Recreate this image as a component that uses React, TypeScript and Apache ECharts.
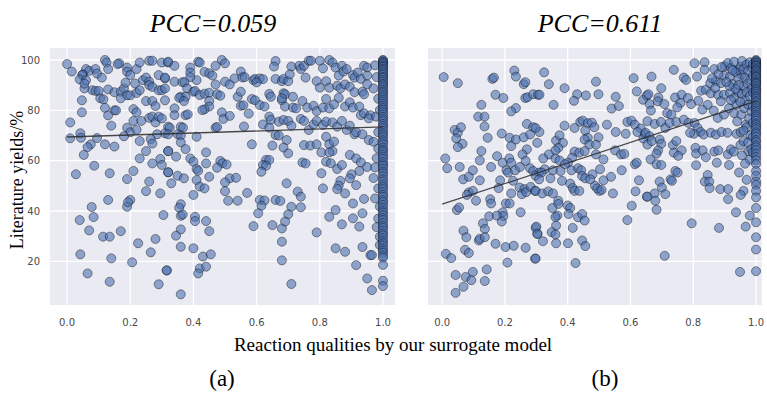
import { useEffect, useRef } from "react";
import * as echarts from "echarts";

// ---------- data ----------
const xTicks = [0, 0.2, 0.4, 0.6, 0.8, 1.0];
const yTicks = [20, 40, 60, 80, 100];
const panelTitles = ["PCC=0.059", "PCC=0.611"];
const panelTags = ["(a)", "(b)"];
const yAxisTitle = "Literature yields/%";
const xAxisTitle = "Reaction qualities by our surrogate model";

// regression lines (endpoints)
const fitA = [[0, 69.4], [1, 73.4]];
const fitB = [[0, 42.7], [1, 83.7]];

// panel (a) scattered points
const pointsA = [
  [0.00,98.4],[0.015,95.4],[0.12,100],[0.125,99],[0.13,96.4],[0.165,98.7],[0.16,98.4],[0.19,97],[0.19,95.4],[0.20,94],[0.22,96.4],[0.23,99],[0.26,99.7],[0.27,99.7],[0.30,99],[0.32,99],[0.06,96.4],[0.07,95.7],[0.05,94.3],[0.048,94],[0.04,92.3],[0.06,92],[0.09,96.4],[0.095,94.6],[0.11,93],[0.055,88.7],[0.055,90.6],[0.08,88],[0.09,87.7],[0.10,87.7],[0.105,84.8],[0.115,84.4],[0.13,88.3],[0.15,87.2],[0.17,87.4],[0.17,84.8],[0.18,88.7],[0.185,91],[0.19,86],[0.20,86],[0.215,90.7],[0.22,86.9],[0.23,88],[0.24,92],[0.25,93],[0.26,91.4],[0.26,90],[0.27,89.3],[0.25,83.7],[0.27,83.7],[0.28,81.7],[0.29,88],[0.29,94],[0.31,92.7],[0.30,88],[0.31,84],[0.047,84],[0.047,79.2],[0.12,81],[0.13,78],[0.15,80],[0.155,80],[0.14,73.9],[0.21,80.5],[0.22,79.2],[0.21,75.8],[0.19,73.1],[0.20,71.3],[0.22,72.3],[0.235,75.8],[0.26,77],[0.27,77.5],[0.28,75.2],[0.29,77.5],[0.30,76.8],[0.32,73.5],[0.31,70.9],[0.285,70.5],[0.265,68.6],[0.27,66.8],[0.23,67.8],[0.18,69.7],[0.01,75.2],[0.01,68.9],[0.042,70.9],[0.044,69.1],[0.095,69],[0.075,66.5],[0.065,65.4],[0.12,66.5],[0.15,65.6],[0.053,62.3],[0.25,63.8],[0.23,60.9],[0.27,58.9],[0.295,60.7],[0.30,58.3],[0.32,63.8],[0.32,55.4],[0.086,58],[0.028,54.6],[0.135,55],[0.21,55.9],[0.19,52.7],[0.26,51.7],[0.25,47.9],[0.295,47],[0.20,44.4],[0.19,41.7],[0.193,43.5],[0.13,44.4],[0.078,41.6],[0.084,37.6],[0.04,36.4],[0.07,32.3],[0.114,29.8],[0.135,29.8],[0.17,32],[0.305,38.4],[0.28,28.9],[0.225,27.2],[0.265,23.6],[0.042,22.8],[0.14,21.2],[0.206,19.6],[0.316,16.4],[0.065,15.2],[0.135,11.9],[0.29,10.9],
  [0.32,99.3],[0.34,97.7],[0.415,99.3],[0.42,99],[0.49,100],[0.50,98.7],[0.39,97],[0.39,95],[0.435,95.3],[0.45,94.7],[0.46,93.8],[0.47,97.7],[0.41,92],[0.39,93.2],[0.34,91.4],[0.365,91.2],[0.372,91.2],[0.31,93],[0.31,88.7],[0.38,88.7],[0.40,87.4],[0.405,87.7],[0.42,86.1],[0.435,86.6],[0.45,87],[0.47,90.3],[0.475,86.4],[0.485,85.8],[0.50,91.4],[0.515,90.3],[0.53,92.7],[0.54,85.4],[0.55,87.4],[0.55,95.4],[0.555,93.1],[0.562,93.2],[0.59,92],[0.595,92.5],[0.61,92.7],[0.62,92.4],[0.60,91.1],[0.66,99.6],[0.655,97.4],[0.66,92.5],[0.68,91.6],[0.36,85.4],[0.375,85.4],[0.355,85],[0.37,83.7],[0.45,83.7],[0.45,81.5],[0.435,80.4],[0.428,80.1],[0.55,81.8],[0.558,82],[0.585,84.5],[0.595,84],[0.61,82.1],[0.625,81.5],[0.64,86.5],[0.645,85.4],[0.68,84],[0.685,86.8],[0.34,80.8],[0.34,78.1],[0.375,78.1],[0.382,78.4],[0.49,79.2],[0.495,76.6],[0.515,77.8],[0.575,78.7],[0.64,77.5],[0.645,76.2],[0.67,75.5],[0.62,74.4],[0.56,73.6],[0.47,73.1],[0.475,73.4],[0.325,73.1],[0.32,70.5],[0.36,73.5],[0.367,73.1],[0.35,70.5],[0.36,70],[0.41,69.5],[0.64,73.1],[0.66,70.2],[0.67,70],[0.36,67.3],[0.375,64.6],[0.32,63.8],[0.585,66.5],[0.65,66],[0.44,63.3],[0.345,61.6],[0.39,60.9],[0.40,59.6],[0.44,58.9],[0.485,59.9],[0.492,59],[0.505,58.5],[0.475,57.2],[0.41,56.7],[0.415,56],[0.45,53.6],[0.63,60.3],[0.64,60.3],[0.62,58.3],[0.63,58],[0.615,55.6],[0.32,55.4],[0.35,54],[0.37,53],[0.33,51],[0.41,52.3],[0.42,49.7],[0.435,49],[0.515,53],[0.535,53.2],[0.50,51.4],[0.50,47.9],[0.57,47.2],[0.40,46.4],[0.51,44.1],[0.54,44.1],[0.61,44.4],[0.625,44.2],[0.615,42.1],[0.66,44.4],[0.675,44],[0.605,39.1],[0.36,42.7],[0.355,41.3],[0.36,38.1],[0.366,38.6],[0.405,37.7],[0.405,36],[0.44,36],[0.45,32],[0.59,34],[0.65,34.4],[0.68,33.1],[0.36,32.7],[0.345,30.2],[0.36,25.8],[0.40,25.2],[0.43,21.9],[0.455,22.8],[0.42,17.2],[0.415,15.2],[0.44,17.9],[0.68,27.8],[0.68,20.4],[0.315,16.4],[0.36,6.9],
  [0.71,97.4],[0.735,97.7],[0.74,96.4],[0.75,97.7],[0.755,93],[0.765,99.7],[0.772,99.7],[0.80,99.7],[0.81,96.7],[0.83,100],[0.84,99],[0.85,97],[0.86,93.8],[0.87,97.7],[0.875,95.4],[0.885,96.4],[0.905,94],[0.91,93],[0.92,95],[0.93,92.5],[0.94,97.7],[0.95,97],[0.95,93.8],[0.95,90.3],[0.685,92.5],[0.70,91.6],[0.705,94.3],[0.79,91.6],[0.80,89],[0.82,91.6],[0.83,89],[0.855,89.8],[0.865,88.7],[0.88,90.3],[0.895,89.4],[0.91,87.2],[0.935,87.4],[0.94,86.4],[0.69,86.4],[0.68,84.8],[0.715,85.4],[0.69,81.5],[0.715,81.1],[0.725,80.8],[0.745,83.7],[0.76,81.1],[0.78,81.8],[0.79,79.7],[0.81,81.1],[0.82,84.5],[0.83,80.8],[0.845,82.4],[0.86,85],[0.88,81.5],[0.895,83.2],[0.905,81.1],[0.925,81.5],[0.93,78.1],[0.94,78.8],[0.96,78.1],[0.955,76.8],[0.685,76.2],[0.70,75.8],[0.71,73.9],[0.74,76.6],[0.75,75.8],[0.765,72.2],[0.78,74.4],[0.79,75.8],[0.81,74.2],[0.82,75.5],[0.84,75.2],[0.855,73.5],[0.87,75.8],[0.885,72.2],[0.895,73.9],[0.91,70.5],[0.915,71.3],[0.935,70.5],[0.955,68.2],[0.695,68.2],[0.685,65.2],[0.70,62.9],[0.75,66.2],[0.77,66],[0.79,66.5],[0.82,69.5],[0.83,66.5],[0.845,67.6],[0.84,63.8],[0.805,63.3],[0.83,63.3],[0.82,59.6],[0.835,59],[0.855,56.7],[0.87,58.3],[0.895,62.3],[0.915,60.9],[0.93,59.3],[0.95,57.5],[0.925,55.9],[0.90,54.6],[0.895,53],[0.745,59.3],[0.755,58.9],[0.805,55],[0.865,52],[0.86,50.1],[0.855,48.7],[0.88,47],[0.915,50.3],[0.81,49],[0.73,47.7],[0.74,45.7],[0.695,51],[0.71,41.7],[0.74,41.5],[0.70,38.7],[0.69,35.8],[0.905,43],[0.94,44.8],[0.935,39.1],[0.925,33.8],[0.905,37.1],[0.85,40.4],[0.83,37.7],[0.87,34.7],[0.79,31.5],[0.85,25.2],[0.88,23.8],[0.935,25.7],[0.915,18.5],[0.95,13.2],[0.96,22.5],[0.965,8.6],[0.71,11],
  [0.975,97.9],[0.97,88.7],[0.978,77.5],[0.985,71.3],[0.97,67.5],[0.98,61],[0.985,49],[0.975,45],[0.985,37],[0.99,29.8],[0.99,26.5],[0.965,22.5],[0.98,93.2],[0.985,84.6],[0.975,57.3],[0.99,41.8],[0.98,33.6],[0.985,64.8],[0.99,80.1],[0.97,53.1]
];

// panel (a) dense column of yields at quality 1.0
const columnA = [100,99.8,99.3,98.9,98.4,97.7,97.3,96.6,96.1,95.4,94.7,94.1,93.3,92.8,92,91.3,90.5,89.9,89.1,88.2,87.4,86.8,85.9,85.1,84.2,83.5,82.6,81.7,80.9,80.2,79.3,78.4,77.4,76.5,75.7,74.6,73.8,72.9,71.8,70.9,70.1,69.2,68.1,67.3,66.4,65.2,64.3,63.6,62.5,61.6,60.7,59.5,58.6,57.9,56.8,55.7,54.9,53.8,52.6,51.7,50.5,49.6,48.7,47.5,46.4,45.6,44.3,43.5,42.4,41.3,40.2,39.4,38.3,37.2,36.4,35.2,34.1,33.3,32.2,31.1,30.3,29.2,28.1,27.2,26.3,25.1,24.2,23.4,22.3,21.4,18.6,12.3,10.2];

// panel (b) scattered points
const pointsB = [
  [0.005,93.2],[0.05,90.8],[0.16,92.5],[0.165,93],[0.23,95.8],[0.235,93.4],[0.26,90.4],[0.265,91.2],[0.17,86.2],[0.195,84.9],[0.265,84.9],[0.272,85.2],[0.29,86.4],[0.305,86.2],[0.125,82.2],[0.235,80.9],[0.22,79.6],[0.115,77.5],[0.135,77.5],[0.135,73.6],[0.04,72.2],[0.05,71.1],[0.06,73.3],[0.045,68.8],[0.065,66.7],[0.05,65.4],[0.145,69.1],[0.19,70.8],[0.215,69.1],[0.235,68.4],[0.26,69.3],[0.27,74.6],[0.29,73.3],[0.28,70.4],[0.22,65.8],[0.27,64.5],[0.125,63.8],[0.12,60.1],[0.175,61.8],[0.01,60.9],[0.016,57],[0.056,57.5],[0.067,52.6],[0.085,53.6],[0.098,56.2],[0.12,52.2],[0.156,57.5],[0.193,59.2],[0.205,56.2],[0.214,60.9],[0.22,59.2],[0.21,55.3],[0.233,56.2],[0.248,57.5],[0.256,62.5],[0.266,59.9],[0.28,57],[0.29,55.9],[0.185,52.2],[0.226,52],[0.247,49.3],[0.262,48.7],[0.254,46.7],[0.268,47.5],[0.282,49.6],[0.296,48],[0.309,55.3],[0.298,54],[0.18,49.1],[0.22,47],[0.203,43],[0.215,43],[0.085,47.4],[0.098,48],[0.079,46.4],[0.108,44.1],[0.153,44.7],[0.156,43],[0.047,40.4],[0.054,41.4],[0.193,39.5],[0.195,38],[0.15,37.9],[0.174,38.2],[0.19,35.8],[0.25,39.5],[0.13,35.1],[0.136,32.9],[0.068,32.2],[0.077,29.6],[0.117,28.3],[0.12,29],[0.136,29.6],[0.17,27],[0.202,25.7],[0.228,26.2],[0.073,24.6],[0.085,23.3],[0.012,23],[0.029,21.3],[0.208,19.5],[0.266,25.4],[0.296,21.1],[0.304,30.9],[0.298,33.3],[0.142,16.8],[0.098,15.8],[0.043,14.6],[0.075,13.8],[0.093,12.5],[0.068,9.9],[0.136,12.2],[0.043,7.5],
  [0.325,95.1],[0.34,90.4],[0.31,86.2],[0.355,82.2],[0.39,88.8],[0.43,86.4],[0.42,83.8],[0.458,85.9],[0.498,86.4],[0.49,91.4],[0.553,85.4],[0.54,80.7],[0.563,81.7],[0.61,92.8],[0.62,87.5],[0.64,84.2],[0.652,85.9],[0.39,73.9],[0.422,73],[0.44,75.4],[0.448,75.9],[0.464,74.9],[0.477,75.1],[0.485,73.3],[0.456,72],[0.464,69.1],[0.454,68.4],[0.469,66.4],[0.498,69.3],[0.49,66.4],[0.525,74.3],[0.553,71.4],[0.59,75.4],[0.603,75.9],[0.614,74.3],[0.633,72.8],[0.585,70.7],[0.622,71.4],[0.646,70.4],[0.641,68.8],[0.654,66.4],[0.31,71.4],[0.298,73],[0.303,67.1],[0.363,68],[0.374,70.1],[0.385,67.1],[0.37,65.1],[0.361,64.1],[0.422,63.6],[0.437,63.2],[0.454,63.8],[0.414,61.2],[0.34,62.5],[0.322,60.9],[0.361,60.9],[0.374,60.1],[0.401,59.2],[0.391,58.6],[0.514,60.5],[0.551,64.1],[0.57,62.5],[0.58,62.7],[0.49,62.5],[0.614,58.6],[0.62,59.2],[0.572,56.2],[0.327,56.6],[0.317,55.3],[0.353,56.2],[0.377,55.9],[0.412,56.2],[0.433,57],[0.443,56.2],[0.479,54.6],[0.503,56.6],[0.538,53.6],[0.514,52.2],[0.487,50],[0.501,48],[0.494,49],[0.508,48.4],[0.309,52.6],[0.298,48],[0.319,47],[0.338,47.8],[0.353,47],[0.345,53],[0.382,52],[0.408,50.9],[0.416,49.1],[0.422,48],[0.437,48],[0.446,53.9],[0.456,53],[0.472,52.6],[0.544,47],[0.627,52.2],[0.616,47.8],[0.652,45.7],[0.37,44.1],[0.37,42.8],[0.351,41.2],[0.367,38.2],[0.361,37.6],[0.4,42.2],[0.408,41.2],[0.403,38.8],[0.433,37.5],[0.446,38.8],[0.454,36.2],[0.416,33.3],[0.363,34.2],[0.349,31.6],[0.361,30.7],[0.321,28],[0.3,33.8],[0.303,31],[0.363,27.2],[0.401,27.2],[0.446,28.3],[0.456,26.1],[0.425,19.3],[0.298,21.1],[0.604,42.1],[0.59,36.4],
  [0.804,98.7],[0.836,99.1],[0.836,96.1],[0.867,96.4],[0.738,96.1],[0.667,93.4],[0.77,93],[0.777,92.1],[0.812,93.4],[0.698,88.8],[0.657,86.4],[0.689,85.1],[0.661,82.5],[0.687,83.6],[0.708,82.5],[0.717,78.9],[0.665,79.9],[0.654,75.7],[0.677,74.6],[0.697,75.4],[0.711,73],[0.742,85.1],[0.763,86.2],[0.759,82.9],[0.749,81.2],[0.73,78.3],[0.725,75],[0.746,75.4],[0.77,76.3],[0.783,84.9],[0.793,82.5],[0.816,83.8],[0.825,87.8],[0.84,88.2],[0.854,90.8],[0.872,91.7],[0.888,90.8],[0.898,93.8],[0.917,93.4],[0.925,90.4],[0.943,96.1],[0.951,97.4],[0.953,94.1],[0.856,86.8],[0.879,86.2],[0.898,86.2],[0.888,83.6],[0.917,86.8],[0.943,87.2],[0.93,84.9],[0.846,82.2],[0.829,80.3],[0.865,79.9],[0.878,77],[0.898,78.3],[0.914,80.9],[0.93,78.9],[0.938,82.2],[0.953,78.3],[0.962,80.9],[0.785,75],[0.804,75],[0.814,73],[0.823,71.4],[0.802,70.7],[0.79,71.1],[0.833,70.4],[0.856,71.1],[0.872,70.4],[0.89,71.4],[0.909,71.1],[0.938,70.7],[0.951,71.4],[0.967,74.3],[0.648,71.1],[0.661,69.7],[0.668,67.8],[0.693,68.4],[0.698,66.7],[0.688,64.1],[0.683,62.8],[0.664,60.5],[0.683,58.6],[0.698,58.3],[0.735,66.2],[0.746,67.8],[0.738,63.2],[0.763,64.1],[0.752,61.9],[0.807,65.1],[0.809,62.8],[0.83,64.1],[0.84,61.4],[0.867,63.6],[0.88,64.1],[0.91,62.5],[0.92,64.5],[0.929,63.6],[0.875,59.2],[0.914,58.3],[0.809,58.2],[0.95,66.2],[0.96,67.8],[0.975,63.8],[0.743,55.9],[0.75,55.3],[0.728,52.6],[0.732,52],[0.693,51.7],[0.7,49.3],[0.711,46.7],[0.677,47],[0.679,44.1],[0.654,45.7],[0.683,40.5],[0.846,54.3],[0.837,51.7],[0.851,51.7],[0.852,49.1],[0.886,48.7],[0.911,48.7],[0.911,44.7],[0.946,55.3],[0.96,48],[0.951,46.4],[0.936,39.5],[0.795,35.1],[0.882,33.3],[0.967,33.8],[0.98,38.2],[0.709,22.2],[0.949,15.8],
  [0.9,97.5],[0.91,98.8],[0.92,96.8],[0.93,99.3],[0.935,95.2],[0.945,92.6],[0.955,99.6],[0.96,96.3],[0.965,93.1],[0.97,98.2],[0.972,90.6],[0.975,95.7],[0.98,99.1],[0.982,92.2],[0.985,88.4],[0.988,96.9],[0.96,89.3],[0.955,86.5],[0.965,84.1],[0.97,87.2],[0.975,82.3],[0.98,85.6],[0.985,79.4],[0.978,76.8],[0.97,73.2],[0.982,70.1],[0.975,67.3],[0.985,64.6],[0.98,60.4],[0.945,90.1],[0.935,88.6],[0.925,95.9],[0.915,89.7],[0.905,91.3],[0.92,84.1],[0.95,83.4],[0.99,98.4],[0.99,93.7],[0.99,87.1],[0.99,81.6],[0.99,75.1],[0.99,69.4],[0.99,63.2],[0.94,75.6],[0.96,71.9],[0.955,62.1],[0.965,58.8],[0.97,52.4],[0.88,94.4],[0.89,97.2],[0.87,88.9],[0.86,92.7]
];

// panel (b) dense column of yields at quality 1.0
const columnB = [100,99.7,99.2,98.9,98.3,97.8,97.6,97,96.4,95.9,95.5,94.8,94.2,93.6,93.3,92.7,92,91.4,90.9,90.5,89.8,89.1,88.4,87.9,87.3,86.6,85.8,85.2,84.5,83.7,83.1,82.2,81.6,80.8,79.9,79.2,78.3,77.6,76.8,75.9,74.8,74.1,73.2,72.4,71.3,70.6,69.5,68.2,67.4,66.1,65.3,64.2,62.8,61.5,60.2,58.7,55.9,54,51.7,50.4,48,45.4,41.2,35.5,29.6,24.7,16.1];

// ---------- layout ----------
const X_RANGES = [[-0.054, 1.038], [-0.045, 1.018]];
const Y_RANGE = [2.66, 104.77];
const GRIDS = [
  { left: 50, top: 48, width: 345, height: 257 },
  { left: 428, top: 48, width: 337, height: 257 },
];

const SERIF = '"Liberation Serif", "Times New Roman", serif';

export default function App() {
  const ref = useRef<HTMLDivElement>(null);

  useEffect(() => {
    if (!ref.current) return;
    const chart = echarts.init(ref.current, undefined, { renderer: "svg" });

    const panels = [
      { points: pointsA, column: columnA, fit: fitA },
      { points: pointsB, column: columnB, fit: fitB },
    ];

    const series: any[] = [];
    panels.forEach((p, g) => {
      // white grid lines
      xTicks.forEach((t) => {
        series.push({
          type: "line", xAxisIndex: g, yAxisIndex: g, silent: true, symbol: "none", z: 1,
          data: [[t, Y_RANGE[0]], [t, Y_RANGE[1]]],
          lineStyle: { color: "#ffffff", width: 1.3 },
        });
      });
      yTicks.forEach((t) => {
        series.push({
          type: "line", xAxisIndex: g, yAxisIndex: g, silent: true, symbol: "none", z: 1,
          data: [[X_RANGES[g][0], t], [X_RANGES[g][1], t]],
          lineStyle: { color: "#ffffff", width: 1.3 },
        });
      });
      const allPts = p.points.concat(p.column.map((y) => [1.0, y]));
      series.push({
        type: "scatter", xAxisIndex: g, yAxisIndex: g, z: 3,
        data: allPts,
        symbolSize: 9,
        itemStyle: { color: "#4C72B0", borderColor: "#000000", borderWidth: 0.7, opacity: 0.6 },
      });
      series.push({
        type: "line", xAxisIndex: g, yAxisIndex: g, silent: true, symbol: "none", z: 4,
        data: p.fit,
        lineStyle: { color: "#2b2b2b", width: 1.3, opacity: 0.85 },
      });
    });

    const option: any = {
      animation: false,
      grid: GRIDS.map((gr) => ({
        ...gr, show: true, backgroundColor: "#EAEAF2", borderWidth: 0, containLabel: false,
      })),
      xAxis: X_RANGES.map((r, g) => ({
        type: "value", gridIndex: g, min: r[0], max: r[1],
        axisLine: { show: false }, axisTick: { show: false }, splitLine: { show: false },
        axisLabel: {
          customValues: xTicks, formatter: (v: number) => v.toFixed(1),
          color: "#4a4a4a", fontSize: 10, margin: 12, fontFamily: "DejaVu Sans",
        },
      })),
      yAxis: [0, 1].map((g) => ({
        type: "value", gridIndex: g, min: Y_RANGE[0], max: Y_RANGE[1],
        axisLine: { show: false }, axisTick: { show: false }, splitLine: { show: false },
        axisLabel: {
          show: g === 0, customValues: yTicks, formatter: (v: number) => String(Math.round(v)),
          color: "#4a4a4a", fontSize: 10, margin: 10, fontFamily: "DejaVu Sans",
        },
      })),
      series,
      graphic: [
        { type: "text", x: 213, y: 23, style: { text: panelTitles[0], font: `italic 26px ${SERIF}`, fill: "#000", textAlign: "center", textVerticalAlign: "middle" } },
        { type: "text", x: 600, y: 23, style: { text: panelTitles[1], font: `italic 26px ${SERIF}`, fill: "#000", textAlign: "center", textVerticalAlign: "middle" } },
        { type: "text", x: 17, y: 180, rotation: Math.PI / 2, style: { text: yAxisTitle, font: `18px ${SERIF}`, fill: "#000", textAlign: "center", textVerticalAlign: "middle" } },
        { type: "text", x: 393, y: 344, style: { text: xAxisTitle, font: `19px ${SERIF}`, fill: "#000", textAlign: "center", textVerticalAlign: "middle" } },
        { type: "text", x: 222, y: 378, style: { text: panelTags[0], font: `23px ${SERIF}`, fill: "#000", textAlign: "center", textVerticalAlign: "middle" } },
        { type: "text", x: 605, y: 378, style: { text: panelTags[1], font: `23px ${SERIF}`, fill: "#000", textAlign: "center", textVerticalAlign: "middle" } },
      ],
    };

    chart.setOption(option);
    return () => chart.dispose();
  }, []);

  return (
    <div
      ref={ref}
      style={{ position: "fixed", left: 0, top: 0, width: 767, height: 393, background: "#ffffff" }}
    />
  );
}
